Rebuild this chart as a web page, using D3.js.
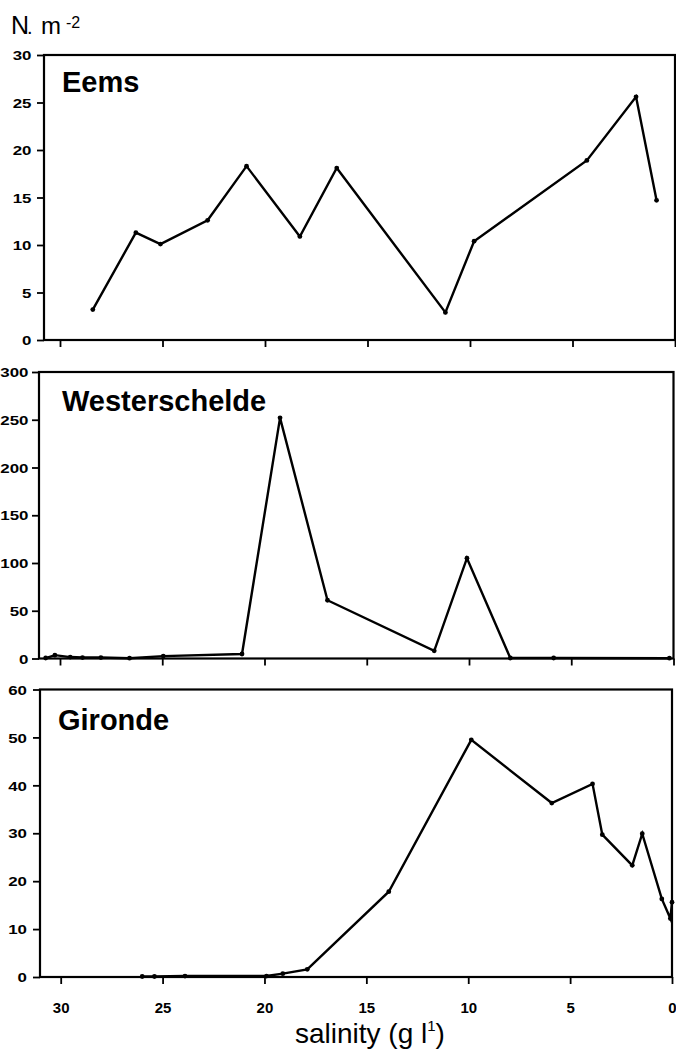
<!DOCTYPE html>
<html>
<head>
<meta charset="utf-8">
<script src="https://cdn.jsdelivr.net/npm/d3@7"></script>
<style>
  body { margin: 0; background: #fff; }
  svg { display: block; }
  text { font-family: "Liberation Sans", Arial, Helvetica, sans-serif; fill: #000; }
</style>
</head>
<body>
<svg id="chart" width="676" height="1051"></svg>
<script>
// Salinity axis (g/l), shared by the three estuaries
const salinityTicks = [30, 25, 20, 15, 10, 5, 0];

// Eems
const eemsSalinity = [28.4, 26.3, 25.1, 22.8, 20.9, 18.3, 16.5, 11.2, 9.8, 4.3, 1.9, 0.9];
const eemsDensity  = [3.2, 11.3, 10.1, 12.6, 18.3, 10.9, 18.1, 2.9, 10.4, 18.9, 25.6, 14.7];
const eemsTicks    = [0, 5, 10, 15, 20, 25, 30];

// Westerschelde
const westSalinity = [30.7, 30.25, 29.5, 28.9, 28.0, 26.6, 24.95, 21.1, 19.24, 16.92, 11.7, 10.1, 7.98, 5.86, 0.2];
const westDensity  = [0.5, 3.5, 1.5, 1.0, 1.0, 0.3, 2.5, 4.7, 252, 61, 8, 105, 0.5, 0.5, 0.3];
const westTicks    = [0, 50, 100, 150, 200, 250, 300];

// Gironde
const girondeSalinity = [26.0, 25.4, 23.9, 19.9, 19.1, 17.9, 13.9, 9.85, 5.9, 3.9, 3.42, 1.95, 1.46, 0.5, 0.08, 0.0];
const girondeDensity  = [0.1, 0.1, 0.2, 0.2, 0.7, 1.6, 17.8, 49.5, 36.3, 40.3, 29.7, 23.3, 29.9, 16.3, 12.2, 15.6];
const girondeTicks    = [0, 10, 20, 30, 40, 50, 60];

const panels = [
  { name: "Eems", sal: eemsSalinity, val: eemsDensity, ticks: eemsTicks,
    left: 44, right: 675, top: 55, bottom: 340, x30: 60, labelEnd: 31.5, titleX: 62, titleY: 92, labels: false },
  { name: "Westerschelde", sal: westSalinity, val: westDensity, ticks: westTicks,
    left: 39, right: 673.5, top: 372, bottom: 658.5, x30: 60, labelEnd: 28.5, titleX: 62, titleY: 411, labels: false },
  { name: "Gironde", sal: girondeSalinity, val: girondeDensity, ticks: girondeTicks,
    left: 40, right: 672, top: 689.5, bottom: 977, x30: 60.7, labelEnd: 27, titleX: 58, titleY: 730, labels: true }
];

const svg = d3.select("#chart");

// Unit label above the first panel
const unitN = svg.append("text").attr("x", 11).attr("y", 33.5).attr("font-size", 25);
unitN.append("tspan").text("N");
unitN.append("tspan").attr("dx", -2).attr("font-size", 20).text(".");
svg.append("text").attr("x", 41).attr("y", 33.5).attr("font-size", 24).text("m");
svg.append("text").attr("x", 66).attr("y", 28).attr("font-size", 16).text("-2");

const yScaleX = 1.3;

panels.forEach(p => {
  const g = svg.append("g");
  const x = d3.scaleLinear().domain([30, 0]).range([p.x30, p.right]);
  const y = d3.scaleLinear().domain([0, d3.max(p.ticks)]).range([p.bottom, p.top]);

  // x ticks below the frame
  const xAxis = g.append("g")
    .attr("transform", `translate(0,${p.bottom})`)
    .call(d3.axisBottom(x).tickValues(salinityTicks).tickSize(7).tickSizeOuter(0)
      .tickFormat(p.labels ? d3.format("d") : () => ""));
  xAxis.select(".domain").remove();
  xAxis.selectAll(".tick line").attr("stroke", "#000").attr("stroke-width", 1.8);
  xAxis.selectAll(".tick text")
    .attr("y", 35.7).attr("dy", "0")
    .attr("font-size", 15).attr("font-weight", "bold")
    .attr("font-family", "\"Liberation Sans\", Arial, sans-serif");

  // y ticks left of the frame, with horizontally widened labels
  const yAxis = g.append("g")
    .attr("transform", `translate(${p.left},0)`)
    .call(d3.axisLeft(y).tickValues(p.ticks).tickSize(7).tickSizeOuter(0).tickFormat(d3.format("d")));
  yAxis.select(".domain").remove();
  yAxis.selectAll(".tick line").attr("stroke", "#000").attr("stroke-width", 1.8);
  yAxis.selectAll(".tick text")
    .attr("x", -(p.left - p.labelEnd) / yScaleX)
    .attr("dy", "0.36em")
    .attr("transform", `scale(${yScaleX},1)`)
    .attr("font-size", 13).attr("font-weight", "bold")
    .attr("font-family", "\"Liberation Sans\", Arial, sans-serif");

  // frame
  g.append("rect")
    .attr("x", p.left).attr("y", p.top)
    .attr("width", p.right - p.left).attr("height", p.bottom - p.top)
    .attr("fill", "none").attr("stroke", "#000").attr("stroke-width", 2.2);

  // title
  g.append("text")
    .attr("x", p.titleX).attr("y", p.titleY)
    .attr("font-size", 29).attr("font-weight", "bold")
    .text(p.name);

  const pts = p.sal.map((s, i) => [s, p.val[i]]);
  const line = d3.line().x(d => x(d[0])).y(d => y(d[1]));
  g.append("path")
    .datum(pts)
    .attr("d", line)
    .attr("fill", "none").attr("stroke", "#000")
    .attr("stroke-width", 2.4).attr("stroke-linejoin", "miter");
  g.selectAll("circle.pt").data(pts).join("circle")
    .attr("class", "pt")
    .attr("cx", d => x(d[0])).attr("cy", d => y(d[1]))
    .attr("r", 2.4).attr("fill", "#000");
});

// x-axis title
const xt = svg.append("text").attr("x", 295).attr("y", 1043).attr("font-size", 28);
xt.append("tspan").text("salinity (g l");
xt.append("tspan").attr("font-size", 15).attr("dy", -12).text("1");
xt.append("tspan").attr("dy", 12).text(")");
</script>
</body>
</html>
